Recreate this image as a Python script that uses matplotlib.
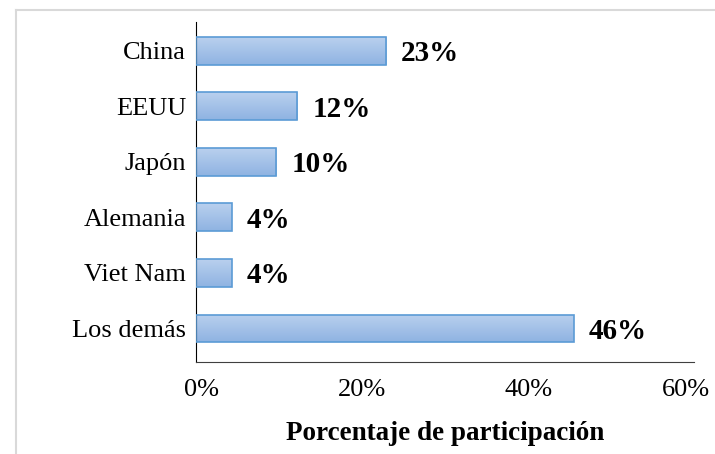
import numpy as np
import matplotlib.pyplot as plt
from matplotlib.lines import Line2D
from matplotlib.transforms import ScaledTranslation
from matplotlib.colors import LinearSegmentedColormap

# data
countries = ["China", "EEUU", "Japón", "Alemania", "Viet Nam", "Los demás"]
shares = [22.9, 12.2, 9.7, 4.3, 4.3, 45.5]
share_labels = ["23%", "12%", "10%", "4%", "4%", "46%"]
x_ticks = [0, 20, 40, 60]
x_tick_labels = ["0%", "20%", "40%", "60%"]

plt.rcParams['font.family'] = ['Liberation Serif', 'DejaVu Serif']

fig = plt.figure(figsize=(7.15, 4.54), dpi=100)
ax = fig.add_axes([0.274, 0.203, 0.697, 0.749])

pos = list(range(len(countries)))
bars = ax.barh(pos, shares, height=0.5, color='#a7c2e6', edgecolor='#5b9bd5',
               linewidth=1.2, zorder=2)

# soft vertical gradient inside each bar, like the office-style fill
grad = np.linspace(0, 1, 64).reshape(-1, 1)
cmap = LinearSegmentedColormap.from_list('g', ['#b9d0ee', '#8fb3e2'])
for b in bars:
    x0, y0 = b.get_x(), b.get_y()
    w, h = b.get_width(), b.get_height()
    im = ax.imshow(grad, extent=[x0, x0 + w, y0 + h, y0], aspect='auto',
                   cmap=cmap, zorder=2.5, interpolation='bicubic')
    im.set_clip_path(b)
    b.set_facecolor('none')
    b.set_zorder(3)

for p, v, lab in zip(pos, shares, share_labels):
    ax.text(v + 1.8, p + 0.05, lab, va='center', ha='left',
            fontsize=21, fontweight='bold')

ax.set_xlim(0, 60)
ax.set_ylim(5.6, -0.52)
ax.set_yticks(pos)
ax.set_yticklabels(countries, fontsize=19)
ax.set_xticks(x_ticks)
ax.set_xticklabels(x_tick_labels, fontsize=19)
ax.tick_params(axis='both', length=0)
ax.tick_params(axis='y', pad=7)
ax.tick_params(axis='x', pad=12)

# edge labels sit a little inward, as in the original
xl = ax.get_xticklabels()
xl[0].set_transform(xl[0].get_transform() + ScaledTranslation(6 / 100, 0, fig.dpi_scale_trans))
xl[-1].set_transform(xl[-1].get_transform() + ScaledTranslation(-8 / 100, 0, fig.dpi_scale_trans))

ax.spines['top'].set_visible(False)
ax.spines['right'].set_visible(False)
ax.spines['left'].set_color('black')
ax.spines['bottom'].set_color('#404040')

ax.set_xlabel("Porcentaje de participación", fontsize=19.5, fontweight='bold',
              labelpad=15)

# light frame of the text box around the chart
fig.add_artist(Line2D([16 / 715, 1], [1 - 10 / 454, 1 - 10 / 454],
                      color='#d9d9d9', lw=1.5, transform=fig.transFigure))
fig.add_artist(Line2D([16 / 715, 16 / 715], [0, 1 - 10 / 454],
                      color='#d9d9d9', lw=1.5, transform=fig.transFigure))

fig.savefig("out.png", dpi=100)
